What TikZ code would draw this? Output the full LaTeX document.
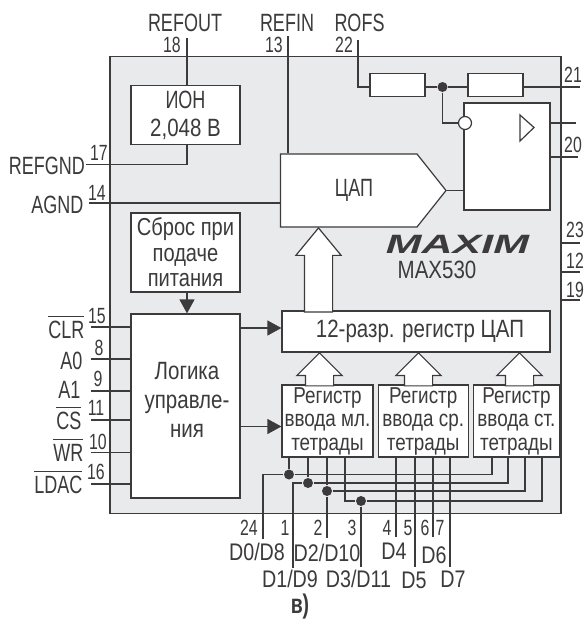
\documentclass[tikz,border=0pt]{standalone}
\usepackage{fontspec}
\usepackage{xcolor}
\usepackage{tikz}
\usetikzlibrary{positioning, arrows.meta, calc, shapes.arrows, shapes.symbols}
\setmainfont{Liberation Sans}[FakeStretch=0.72]
\newfontfamily\boxfont{Liberation Sans}[FakeStretch=0.82]
\newfontfamily\logofont{Liberation Sans}[FakeStretch=1.62]
\definecolor{ink}{HTML}{3C3A3B}
\definecolor{chip}{HTML}{E9EAEC}
\newsavebox\ovlbox
\newcommand{\ovl}[1]{\sbox\ovlbox{#1}\rlap{\rule[21pt]{\wd\ovlbox}{1.2pt}}\usebox\ovlbox}

\begin{document}
\begin{tikzpicture}[x=1pt,y=1pt,line width=1.2pt,draw=ink,text=ink]
    \tikzset{lab/.style={inner sep=0pt,font=\fontsize{25}{29}\selectfont}, num/.style={inner sep=0pt,font=\fontsize{22}{24}\selectfont},
      blab/.style={inner sep=0pt,align=center,font=\boxfont\fontsize{25}{29}\selectfont},
      dlab/.style={inner sep=0pt,font=\boxfont\fontsize{24}{28}\selectfont},
      box/.style={draw=ink,fill=white,inner sep=0pt,align=center,font=\boxfont\fontsize{25}{28}\selectfont},
      regbox/.style={box,minimum height=72pt,font=\boxfont\fontsize{23}{23.5}\selectfont},
      res/.style={box,minimum width=55pt,minimum height=22.5pt},
      dot/.style={circle,fill=ink,inner sep=0pt,minimum size=10pt},
      hollow/.style={single arrow,draw=ink,fill=white,rotate=90,anchor=tip,inner xsep=0pt,inner ysep=13.5pt,single arrow head extend=8.5pt},
      pil/.style={-{Triangle[length=14pt,width=15pt]}}}
    \useasboundingbox (0,0) rectangle (584,-619);
    \node[draw=ink,fill=chip,line width=1.8pt,minimum width=451pt,minimum height=457pt,inner sep=0pt] (chip) at (335.5,-285) {};
    % boxes
    \node[box,minimum width=109pt,minimum height=58.5pt] (ion) at (185.5,-115) {\rmfamily ИОН\\2,048 В};
    \node[box,minimum width=109pt,minimum height=79pt,font=\boxfont\fontsize{24.5}{25.5}\selectfont] (rst) at (185.5,-252.5) {Сброс при\\подаче\\питания};
    \node[box,minimum width=109pt,minimum height=184pt] (logic) at (185.5,-406) {};
    \node[blab] (logictxt) at (187,-400) {Логика\\управле-\\ния};
    \node[box,signal,signal to=east,signal pointer angle=103,minimum width=165.5pt,minimum height=73pt] (dac) at (348.75,-190.5) {};
    \node[lab] (dactxt) at (354,-190) {ЦАП};
    \node[box,minimum width=86pt,minimum height=107pt] (amp) at (507,-156.5) {};
    \node[res] (r1) at (397.5,-85) {};
    \node[res] (r2) at (495.5,-85) {};
    \node[box,minimum width=268pt,minimum height=41pt] (reg12) at (416,-331.5) {};
    \node[blab] (reg12txt) at (420,-331) {12-разр. регистр ЦАП};
    \node[regbox,minimum width=91pt] (regl) at (327.5,-421) {Регистр\\ввода мл.\\тетрады};
    \node[regbox,minimum width=90pt,right=4pt of regl] (regm) {Регистр\\ввода ср.\\тетрады};
    \node[regbox,minimum width=86pt,right=4pt of regm] (regh) {Регистр\\ввода ст.\\тетрады};
    % hollow arrows
    \node[hollow,single arrow tip angle=79,minimum height=84pt,minimum width=43pt] (bus) at (318.5,-227) {};
    \node[hollow,single arrow tip angle=90,minimum height=33pt,minimum width=44pt] (busl) at (319.5,-352) {};
    \node[hollow,single arrow tip angle=90,minimum height=33pt,minimum width=44pt] (busm) at (418.5,-352) {};
    \node[hollow,single arrow tip angle=90,minimum height=33pt,minimum width=44pt] (bush) at (519.5,-352) {};
    % top pins
    \coordinate (p18) at (187,-38); \coordinate (p13) at (288,-36); \coordinate (p22) at (358,-40);
    \coordinate (p17) at (86,-164.5); \coordinate (p14) at (89,-203);
    \node[dot] (mid) at (442.5,-87) {};
    \node[circle,draw=ink,fill=white,inner sep=0pt,minimum size=13pt] (inv) at (465,-123) {};
    \draw (p18) -- (p18 |- ion.north);
    \draw (p13) -- (p13 |- dac.north);
    \draw (p22) |- (r1.west |- mid);
    \draw (r1.east |- mid) -- (mid) -- (r2.west |- mid);
    \coordinate (p21) at (580,-87); \draw (r2.east |- mid) -- (p21);
    \draw (mid) |- (inv);
    \draw (p17) -| (ion.south -| p18);
    \draw (p14) -- (dac.west |- p14);
    \draw (dac.east) -- (amp.west |- dac.east);
    \coordinate (po1) at (576,-123); \coordinate (po2) at (578,-157);
    \draw (amp.east |- po1) -- (po1); \draw (amp.east |- po2) -- (po2);
    \draw[fill=white] (520,-115) -- (534,-127.5) -- (520,-141) -- cycle;
    \foreach \yy/\nm in {243/23,272/12,300/19} {
      \coordinate (p\nm) at (580,-\yy);
      \draw (chip.east |- p\nm) -- (p\nm);
    }
    % left pins of logic
    \foreach \yy/\nm/\txt/\tx/\ty/\lx/\ly in {327/15/\ovl{CLR}/97/316/85/338, 359/8/A0/99/348/83/369, 391/9/A1/98/379/81/398, 420/11/\ovl{CS}/96/408/82/429, 452.5/10/\ovl{WR}/98/442/84/461, 484/16/\ovl{LDAC}/96/472/83/493} {
      \coordinate (p\nm) at (91,-\yy);
      \draw (p\nm) -- (logic.west |- p\nm);
      \node[num] (n\nm) at (\tx,-\ty) {\nm};
      \node[lab,anchor=base east] (l\nm) at (\lx,-\ly) {\txt};
    }
    \draw[pil] (rst.south -| p18) -- (logic.north -| p18);
    \coordinate (c1) at (240,-328); \coordinate (c2) at (240,-426.5);
    \draw[pil] (c1) -- (reg12.west |- c1);
    \draw[pil] (c2) -- (regl.west |- c2);
    % data wires
    \node[dot] (d0) at (289,-474.5) {};
    \node[dot] (d1) at (308,-483) {};
    \node[dot] (d2) at (327,-491) {};
    \node[dot] (d3) at (361,-501) {};
    \coordinate (e0) at (263,-539); \coordinate (e1) at (293,-568); \coordinate (e2) at (327,-538); \coordinate (e3) at (361,-567);
    \coordinate (hp0) at (492,-457); \coordinate (hp1) at (508,-457); \coordinate (hp2) at (525,-457); \coordinate (hp3) at (542,-457);
    \draw (e0) |- (d0) -| (hp0);
    \draw (e1) |- (d1) -| (hp1);
    \draw (d2) -| (hp2);
    \coordinate (lp3) at (345,-457);
    \draw (lp3) |- (d3) -| (hp3);
    \draw (d3) -- (e3);
    \draw (e2) -- (d2) -- (d2 |- regl.south);
    \draw (d0) -- (d0 |- regl.south);
    \draw (d1) -- (d1 |- regl.south);
    \foreach \xx/\yy/\nm in {396/537/4,415/567/5,433/537/6,450/567/7} {
      \coordinate (e\nm) at (\xx,-\yy);
      \draw (\xx,-457) -- (e\nm);
    }
    % labels
    \node[lab] (refout) at (185,-23) {REFOUT};
    \node[num] (n18) at (172,-44.5) {18};
    \node[lab] (refin) at (287,-23) {REFIN};
    \node[num] (n13) at (274,-44.5) {13};
    \node[lab] (rofs) at (359.5,-23) {ROFS};
    \node[num] (n22) at (344,-44.5) {22};
    \node[lab,anchor=east] (refgnd) at (85.5,-165.5) {REFGND};
    \node[num] (n17) at (99,-153) {17};
    \node[lab,anchor=east] (agnd) at (84,-205) {AGND};
    \node[num] (n14) at (97,-192.5) {14};
    \node[num] (n21) at (573,-74.5) {21};
    \node[num] (n20) at (573,-144.5) {20};
    \node[num] (n23) at (575,-230) {23};
    \node[num] (n12) at (575,-261) {12};
    \node[num] (n19) at (575,-290) {19};
    \node[inner sep=0pt,font=\logofont\bfseries\itshape\fontsize{26.5}{30}\selectfont] (logo) at (457.5,-244.5) {MAXIM};
    \node[blab] (part) at (437,-270) {MAX530};
    \foreach \xx/\nm in {249/24,285/1,318/2,352/3,387/4,408/5,425/6,440/7} {
      \node[num] (b\nm) at (\xx,-528) {\nm};
    }
    \foreach \xx/\yy/\txt/\nm in {257/552/D0\slash D8/d08,290/579/D1\slash D9/d19,327/553/D2\slash D10/d210,358.5/579/D3\slash D11/d311,394/551/D4/d4,414/580/D5/d5,434/555/D6/d6,453/579/D7/d7} {
      \node[dlab] (\nm) at (\xx,-\yy) {\txt};
    }
    \node[inner sep=0pt,font=\bfseries\fontsize{27}{29}\selectfont] (cap) at (300,-607) {в)};
  \end{tikzpicture}
\end{document}
